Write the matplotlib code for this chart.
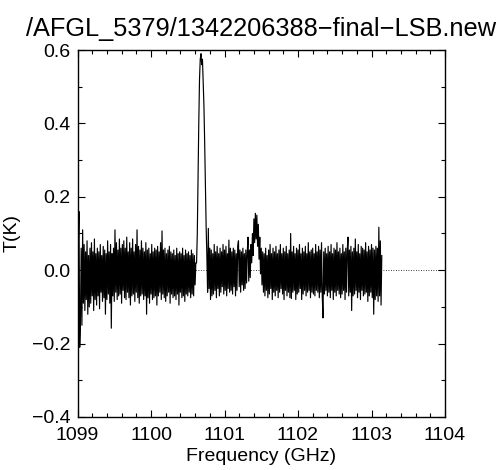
import numpy as np
import matplotlib
matplotlib.use('Agg')
import matplotlib.pyplot as plt
from matplotlib.ticker import MultipleLocator, FuncFormatter

# Spektrum: Kanalraster und Temperaturen (mK)
freq_start = 1099.00
freq_step = 0.01

T_mK = [
    # 1099.00 - 1100.61
    20, 60, 160, -210, -140, 60, -150, 110, -90, 70,
    -110, 50, -80, 80, -120, 40, -100, 60, -90, 75,
    -70, 50, -110, 85, -80, 45, -95, 60, -70, 50,
    -105, 70, -60, 40, -85, 65, -75, 55, -120, 45,
    -80, 80, -65, 50, -90, 70, -158, 45, -70, 60,
    -85, 110, -60, 75, -80, 55, -70, 85, -65, 60,
    -90, 70, -55, 80, -75, 60, -80, 90, -60, 50,
    -75, 75, -95, 60, -70, 85, -65, 50, -85, 70,
    -60, 110, -75, 65, -90, 55, -70, 80, -65, 60,
    -80, 50, -70, 75, -120, 55, -75, 60, -90, 45,
    -65, 70, -80, 50, -75, 60, -70, 55, -95, 65,
    -70, 50, -60, 75, -80, 107, -65, 55, -75, 60,
    -85, 45, -70, 55, -60, 65, -90, 50, -65, 45,
    -75, 55, -70, 40, -80, 60, -65, 45, -95, 50,
    -60, 45, -75, 60, -70, 40, -85, 55, -65, 45,
    -70, 50, -60, 40, -75, 55, -65, 45, -70, 40,
    -40, 20,
    # starke Linie 1100.62 - 1100.76
    20, 100, 250, 400, 520, 575, 590, 560, 575, 515, 450, 350, 230, 120, 40,
    # 1100.77 - 1101.34
    -60, 114, -50,
    60, -80, 55, -70, 45, -65, 70, -55, 50, -75,
    65, -50, 45, -70, 60, -60, 50, -45, 70, -65,
    55, -55, 65, -70, 45, -50, 82, -60, 60, -55,
    50, -65, 60, -45, 55, -70, 45, -55, 65, 80,
    -45, 55, -60, 50, -40, 60, -55, 45, -50, 55,
    -35, 50, 90, -30, 55,
    # schwache Linie 1101.35 - 1101.51
    -20, 70, 20, 100, 40, 140, 75, 155, 85, 150, 65, 125, 30, 90, -10, 60, -40,
    # 1101.52 - 1103.14
    50, -60, 45, -70, 60, -55, 40, -75,
    55, -65, 70, -50, 45, -80, 60, -60, 50, -70,
    65, -55, 45, -75, 55, -60, 70, -50, 45, -65,
    60, -80, 50, -55, 65, -70, 45, -60, 55, -75,
    100, -77, 50, -60, 65, -55, 45, -80, 60, -65,
    55, -60, 70, -50, 45, -80, 60, -65, 50, -55,
    65, -70, 45, -60, 75, -55, 50, -75, 55, -60,
    60, -65, 45, -70, 70, -55, 50, -60, 65, -75,
    55, -60, 75, -70, -130, 50, -65, 60, -55, 45,
    -70, 65, -60, 50, -75, 70, -55, 45, -80, 60,
    -60, 55, -70, 75, -55, 50, -65, 60, -75, 45,
    -65, 70, -55, 50, -80, 60, -60, 55, 90, -70,
    55, -60, 65, -110, 50, -70, 60, -65, 85, -55,
    50, -75, 70, -60, 45, -80, 65, -55, 60, -70,
    55, -65, 75, -60, 50, -85, 65, -70, 55, -60,
    70, -75, 60, -120, 55, -80, 65, -70, 60, -85,
    117, -70, 80, -95, 40,
]

title = '/AFGL_5379/1342206388\u2212final\u2212LSB.new'

T = np.array(T_mK) / 1000.0
freq = freq_start + freq_step * np.arange(len(T))

plt.rcParams['font.family'] = ['Liberation Sans', 'DejaVu Sans']

fig = plt.figure(figsize=(5.0, 4.7), dpi=100)
ax = fig.add_axes([0.155, 0.1128, 0.735, 0.7808])

ax.axhline(0, color='k', lw=0.6, ls=(0, (1, 2)), zorder=1)
ax.plot(freq, T, color='k', lw=0.85, zorder=2)

ax.set_xlim(1099, 1104)
ax.set_ylim(-0.4, 0.6)
ax.xaxis.set_major_locator(MultipleLocator(1))
ax.xaxis.set_minor_locator(MultipleLocator(0.2))
ax.yaxis.set_major_locator(MultipleLocator(0.2))
ax.yaxis.set_minor_locator(MultipleLocator(0.1))
ax.yaxis.set_major_formatter(FuncFormatter(lambda v, p: f'{v:.1f}'.replace('-', '\u2212')))

ax.tick_params(which='both', direction='in', top=True, right=True, labelsize=14)
ax.tick_params(which='major', length=5, width=0.8)
ax.tick_params(which='minor', length=3, width=0.8)
ax.tick_params(axis='x', pad=7)
ax.tick_params(axis='y', pad=5)
for s in ax.spines.values():
    s.set_linewidth(1.0)

ax.set_xlabel('Frequency (GHz)', fontsize=14, labelpad=3)
ax.set_ylabel('T(K)', fontsize=14, labelpad=8)
ax.set_title(title, fontsize=18.3, pad=10)

fig.savefig('out.png', dpi=100)
